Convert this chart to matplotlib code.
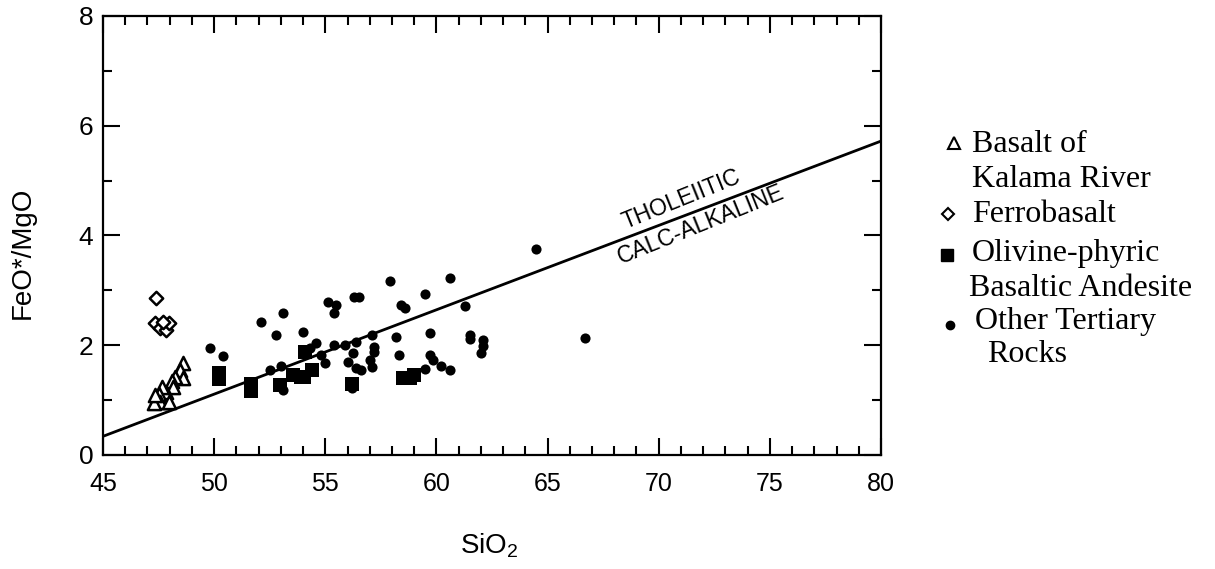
import matplotlib
matplotlib.use('Agg')
import matplotlib.pyplot as plt
from matplotlib.ticker import MultipleLocator

# Basalt of Kalama River (open triangles)
kalama_x = [48.6, 48.45, 48.6, 48.25, 48.1, 48.15, 47.85, 47.65, 47.5, 47.55, 47.95, 47.3, 47.35]
kalama_y = [1.67, 1.55, 1.40, 1.43, 1.34, 1.24, 1.15, 1.24, 1.12, 0.97, 0.97, 0.94, 1.09]

# Ferrobasalt (open diamonds)
ferro_x = [47.4, 47.35, 47.55, 47.85, 47.95, 47.7]
ferro_y = [2.86, 2.41, 2.31, 2.28, 2.40, 2.42]

# Olivine-phyric basaltic andesite (filled squares)
olivine_x = [50.2, 50.2, 51.65, 51.65, 52.95, 53.55, 53.9, 54.05, 54.1, 54.4, 56.2, 58.5, 58.8, 59.0]
olivine_y = [1.50, 1.38, 1.30, 1.16, 1.28, 1.45, 1.42, 1.43, 1.87, 1.55, 1.30, 1.40, 1.40, 1.45]

# Other Tertiary rocks (filled circles)
other_x = [49.8, 50.4, 52.1, 52.8, 53.1, 54.0, 52.5, 53.0, 53.1, 54.6, 54.8, 55.0, 55.4,
           55.9, 56.4, 57.1, 57.2, 57.2, 56.25, 56.0, 56.4, 56.6, 57.0, 57.1, 58.2, 58.3,
           57.9, 60.6, 59.5, 55.1, 55.5, 55.4, 56.3, 56.5, 58.4, 58.6, 61.3, 59.7, 61.5,
           61.5, 62.1, 62.1, 62.0, 66.7, 59.7, 59.85, 60.2, 60.6, 59.5, 56.2, 64.5, 54.3]
other_y = [1.95, 1.80, 2.43, 2.18, 2.58, 2.25, 1.55, 1.62, 1.18, 2.04, 1.82, 1.67, 2.00,
           2.00, 2.05, 2.19, 1.97, 1.88, 1.85, 1.70, 1.58, 1.55, 1.73, 1.61, 2.15, 1.82,
           3.17, 3.22, 2.93, 2.78, 2.73, 2.58, 2.87, 2.87, 2.74, 2.67, 2.72, 2.23, 2.19,
           2.12, 2.09, 1.98, 1.85, 2.14, 1.83, 1.73, 1.62, 1.55, 1.56, 1.22, 3.75, 1.95]

# tholeiitic / calc-alkaline dividing line
line_x = [45, 80]
line_y = [0.34, 5.72]

sans = 'Liberation Sans'
serif = 'Liberation Serif'
plt.rcParams['mathtext.fontset'] = 'custom'
plt.rcParams['mathtext.rm'] = sans

fig = plt.figure(figsize=(12.15, 5.69), dpi=100)
ax = fig.add_axes([0.0848, 0.2004, 0.6403, 0.7715])

ax.plot(line_x, line_y, color='black', lw=2.0, zorder=1)

ax.scatter(other_x, other_y, marker='o', s=7.3**2, color='black', lw=0, zorder=3)
ax.scatter(olivine_x, olivine_y, marker='s', s=9.5**2, color='black', lw=0, zorder=3)
ax.scatter(kalama_x, kalama_y, marker='^', s=9.5**2, facecolor='white',
           edgecolor='black', lw=1.8, zorder=4)
ax.scatter(ferro_x, ferro_y, marker='D', s=6.8**2, facecolor='white',
           edgecolor='black', lw=1.8, zorder=4)

ax.text(71.0, 4.65, 'THOLEIITIC', rotation=22, ha='center', va='center',
        fontsize=16.5, family=sans)
ax.text(71.9, 4.20, 'CALC-ALKALINE', rotation=22, ha='center', va='center',
        fontsize=16.5, family=sans)

ax.set_xlim(45, 80)
ax.set_ylim(0, 8)
ax.xaxis.set_major_locator(MultipleLocator(5))
ax.xaxis.set_minor_locator(MultipleLocator(1))
ax.yaxis.set_major_locator(MultipleLocator(2))
ax.yaxis.set_minor_locator(MultipleLocator(1))
ax.tick_params(which='both', direction='in', top=True, right=True, width=1.5,
               color='black')
ax.tick_params(which='major', length=12)
ax.tick_params(which='minor', length=6.5)
ax.tick_params(axis='x', which='major', pad=12, labelsize=18)
ax.tick_params(axis='y', which='major', pad=7, labelsize=19)
for lab in ax.get_xticklabels() + ax.get_yticklabels():
    lab.set_family(sans)
for sp in ax.spines.values():
    sp.set_linewidth(1.6)

fig.text(0.403, 0.042, 'SiO$_2$', ha='center', va='center', fontsize=20,
         family=sans)
fig.text(0.019, 0.555, 'FeO*/MgO', ha='center', va='center', rotation=90,
         fontsize=20, family=sans)

# legend drawn by hand, figure pixel coordinates
W, H = 1215, 569
def fx(px):
    return px / W
def fy(py):
    return 1 - py / H

text_kw = dict(fontsize=23, family=serif, va='center', ha='left')
fig.text(fx(972), fy(145), 'Basalt of', **text_kw)
fig.text(fx(972), fy(179), 'Kalama River', **text_kw)
fig.text(fx(972), fy(214), 'Ferrobasalt', **text_kw)
fig.text(fx(972), fy(253), 'Olivine-phyric', **text_kw)
fig.text(fx(969), fy(288), 'Basaltic Andesite', **text_kw)
fig.text(fx(975), fy(322), 'Other Tertiary', **text_kw)
fig.text(fx(1027), fy(355), 'Rocks', **dict(text_kw, ha='center'))

mk = dict(transform=fig.transFigure, clip_on=False, ls='none', color='black')
fig.add_artist(plt.Line2D([fx(954)], [fy(143)], marker='^', ms=8.5, mfc='white', mew=1.5, **mk))
fig.add_artist(plt.Line2D([fx(948)], [fy(214)], marker='D', ms=6.5, mfc='white', mew=1.5, **mk))
fig.add_artist(plt.Line2D([fx(947)], [fy(255)], marker='s', ms=8, **mk))
fig.add_artist(plt.Line2D([fx(950)], [fy(325)], marker='o', ms=6, **mk))

fig.savefig('out.png', dpi=100)
